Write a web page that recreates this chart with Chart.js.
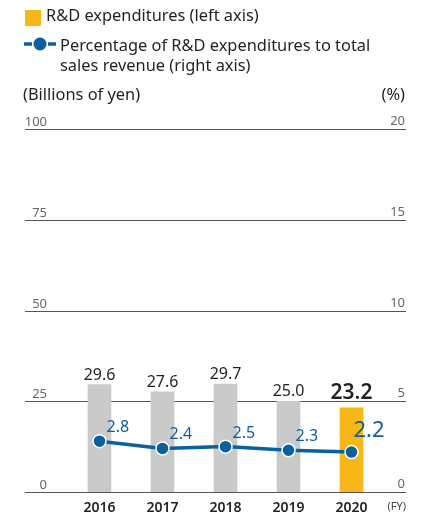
<!DOCTYPE html>
<html>
<head>
<meta charset="utf-8">
<script src="https://cdn.jsdelivr.net/npm/chart.js"></script>
<style>
  html, body { margin: 0; padding: 0; background: #fff; }
  body { width: 435px; height: 518px; position: relative; overflow: hidden; font-family: "Noto Sans", sans-serif; color: #231f20; }
  #chart { position: absolute; left: 0; top: 0; }
  .txt { position: absolute; font-size: 16.4px; line-height: 20px; white-space: nowrap; }
  .swatch { position: absolute; left: 25px; top: 10px; width: 16px; height: 16px; background: #f7b719; }
</style>
</head>
<body>
<canvas id="chart" width="435" height="518"></canvas>

<div class="swatch"></div>
<div class="txt" style="left:46px; top:5px;">R&amp;D expenditures (left axis)</div>
<svg style="position:absolute; left:22px; top:36px;" width="36" height="16">
  <line x1="2" y1="8" x2="10" y2="8" stroke="#0a5f9e" stroke-width="3.5"/>
  <line x1="26" y1="8" x2="34" y2="8" stroke="#0a5f9e" stroke-width="3.5"/>
  <circle cx="18" cy="8" r="6.5" fill="#0a5f9e"/>
</svg>
<div class="txt" style="left:60px; top:35px;">Percentage of R&amp;D expenditures to total<br>sales revenue (right axis)</div>
<div class="txt" style="left:23px; top:84px;">(Billions of yen)</div>
<div class="txt" style="right:30px; top:84px;">(%)</div>

<script>
// data
const years = ['2016', '2017', '2018', '2019', '2020'];
const rdExpenditures = [29.6, 27.6, 29.7, 25.0, 23.2];
const rdRatio = [2.8, 2.4, 2.5, 2.3, 2.2];
const leftTicks = [0, 25, 50, 75, 100];
const rightTicks = [0, 5, 10, 15, 20];

const grey = '#c9cac9';
const yellow = '#f7b719';
const blue = '#0a5f9e';
const font = '"Noto Sans", sans-serif';

// grid lines + tick labels drawn across the full width, above each line
const gridPlugin = {
  id: 'grid',
  beforeDatasetsDraw(chart) {
    const ctx = chart.ctx;
    const y = chart.scales.y;
    const y1 = chart.scales.y1;
    ctx.save();
    ctx.strokeStyle = '#555';
    ctx.lineWidth = 1;
    ctx.font = '13px ' + font;
    ctx.fillStyle = '#666';
    ctx.textBaseline = 'alphabetic';
    leftTicks.forEach((v, i) => {
      const py = Math.round(y.getPixelForValue(v)) + 0.5;
      ctx.beginPath();
      ctx.moveTo(25, py);
      ctx.lineTo(406, py);
      ctx.stroke();
      ctx.textAlign = 'right';
      ctx.fillText(String(v), 47, py - 4);
      ctx.fillText(String(rightTicks[i]), 405, y1.getPixelForValue(rightTicks[i]) - 4);
    });
    ctx.restore();
  }
};

// value labels for bars and line points
const labelPlugin = {
  id: 'labels',
  afterDatasetsDraw(chart) {
    const ctx = chart.ctx;
    const barMeta = chart.getDatasetMeta(1);
    const lineMeta = chart.getDatasetMeta(0);
    const last = years.length - 1;
    ctx.save();
    ctx.textBaseline = 'alphabetic';
    barMeta.data.forEach((bar, i) => {
      ctx.textAlign = 'center';
      ctx.fillStyle = '#231f20';
      if (i === last) {
        ctx.font = '600 21px ' + font;
        ctx.fillText(rdExpenditures[i].toFixed(1), bar.x, bar.y - 9);
      } else {
        ctx.font = '16px ' + font;
        ctx.fillText(rdExpenditures[i].toFixed(1), bar.x, bar.y - 5);
      }
    });
    lineMeta.data.forEach((pt, i) => {
      ctx.textAlign = 'left';
      ctx.fillStyle = blue;
      if (i === last) {
        ctx.font = '22px ' + font;
        ctx.fillText(rdRatio[i].toFixed(1), pt.x + 2, pt.y - 15);
      } else {
        ctx.font = '16px ' + font;
        ctx.fillText(rdRatio[i].toFixed(1), pt.x + 7, pt.y - 9);
      }
    });
    // (FY) unit
    ctx.font = '11px ' + font;
    ctx.fillStyle = '#444';
    ctx.textAlign = 'right';
    ctx.fillText('(FY)', 406, 510);
    ctx.restore();
  }
};

new Chart(document.getElementById('chart'), {
  data: {
    labels: years,
    datasets: [
      {
        type: 'line',
        data: rdRatio,
        yAxisID: 'y1',
        order: 0,
        borderColor: blue,
        borderWidth: 3.5,
        pointRadius: 6.5,
        pointBackgroundColor: blue,
        pointBorderColor: '#fff',
        pointBorderWidth: 1.5,
        tension: 0
      },
      {
        type: 'bar',
        data: rdExpenditures,
        yAxisID: 'y',
        order: 1,
        backgroundColor: rdExpenditures.map((v, i) => i === years.length - 1 ? yellow : grey),
        barThickness: 23
      }
    ]
  },
  options: {
    responsive: false,
    animation: false,
    layout: { padding: { left: 68, right: 52, top: 129, bottom: 0 } },
    plugins: { legend: { display: false }, tooltip: { enabled: false } },
    scales: {
      x: {
        grid: { display: false },
        border: { display: false },
        afterFit(scale) { scale.height = 26; },
        ticks: { padding: 0, color: '#231f20', font: { family: font, size: 14, weight: '600' } }
      },
      y: { display: false, min: 0, max: 100 },
      y1: { display: false, min: 0, max: 20 }
    }
  },
  plugins: [gridPlugin, labelPlugin]
});
</script>
</body>
</html>
